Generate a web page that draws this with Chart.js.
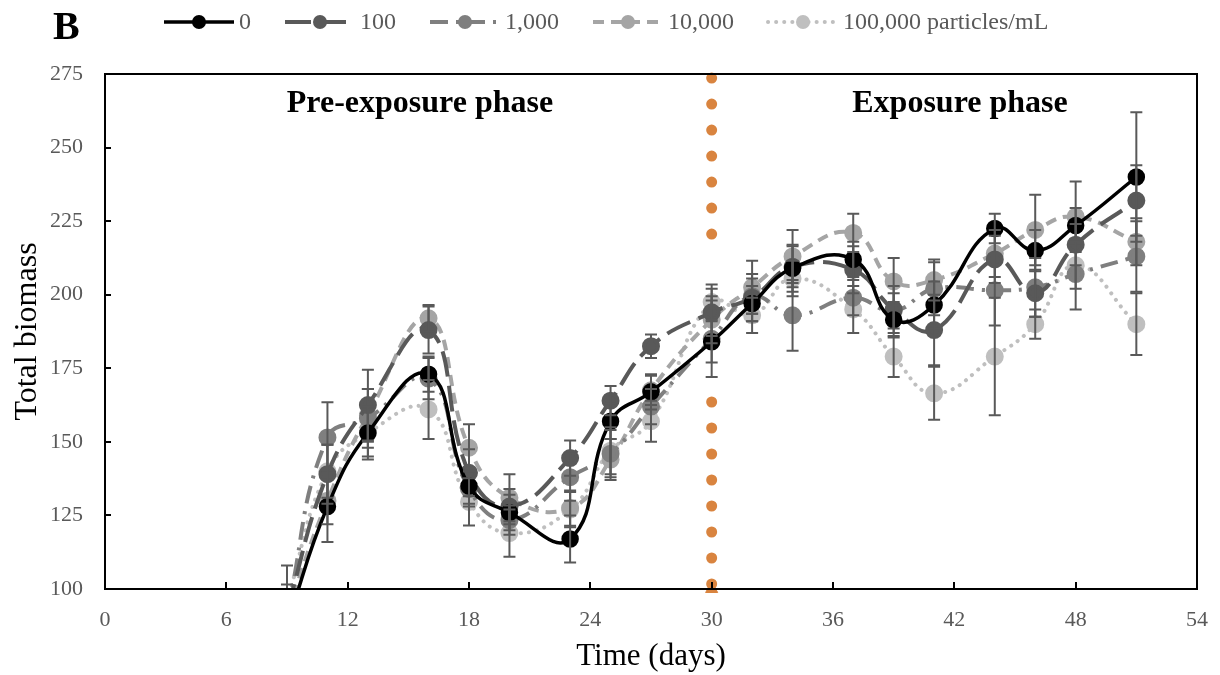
<!DOCTYPE html>
<html>
<head>
<meta charset="utf-8">
<script src="https://cdn.jsdelivr.net/npm/chart.js@4.4.1/dist/chart.umd.min.js"></script>
<style>
  html, body { margin: 0; padding: 0; background: #fff; }
  #wrap { width: 1220px; height: 675px; }
</style>
</head>
<body>
<div id="wrap"><canvas id="chart" width="1220" height="675"></canvas></div>
<script>
// === DATOS ===
const days = [9, 11, 13, 16, 18, 20, 23, 25, 27, 30, 32, 34, 37, 39, 41, 44, 46, 48, 51];

const conc0      = [88, 128, 153, 173, 135, 126, 117, 157, 167, 184, 197, 209, 212, 191.5, 196.5, 222.5, 215, 223.5, 240];
const conc100    = [93, 139, 162.5, 188, 139.5, 128, 144.5, 164, 182.5, 194, 199, 209.5, 208.5, 195, 188, 212, 200.5, 217, 232];
const conc1000   = [92, 151.5, 158, 171.5, 134, 123.4, 138, 146, 162, 185, 199.5, 193, 199, 194.5, 202, 201.5, 202.5, 207, 213];
const conc10000  = [92, 130, 159, 192, 148, 131, 127.5, 144, 167.5, 191.5, 202.5, 213, 221, 204.5, 205, 214, 222, 226.5, 218];
const conc100000 = [96, 140, 153, 161, 129.6, 119, 127, 147, 157, 197.5, 193, 205.5, 195, 179, 166.5, 179, 190, 210, 190];

// desviaciones (barras de error)
const err0      = [8, 12, 8, 6, 6, 6, 8, 6, 6, 7, 6, 8, 6, 6, 8, 5, 7, 6, 22];
const err100    = [7, 10, 12, 8, 8, 6, 6, 5, 4, 8, 8, 7, 8, 8, 12, 8, 8, 7, 12];
const err1000   = [7, 12, 10, 7, 6, 5, 8, 8, 6, 13, 6, 12, 6, 6, 9, 12, 10, 12, 12];
const err10000  = [9.5, 8, 9, 4.5, 8, 8, 6, 7, 5, 8, 9, 9, 6.5, 8, 7, 8, 12, 12, 8];
const err100000 = [12, 9, 9, 10, 8, 8, 6, 8, 7, 6, 6, 6, 8, 7, 9, 20, 5, 8, 10.5];

const seriesLabels = ["0", "100", "1,000", "10,000", "100,000 particles/mL"];

// línea vertical del inicio de la exposición (día 30)
const exposureDay = 30;
const phaseLineLow = [101.7, 163.6];
const phaseLineHigh = [273.6, 211.8];

const xTicks = [0, 6, 12, 18, 24, 30, 36, 42, 48, 54];
const yTicks = [100, 125, 150, 175, 200, 225, 250, 275];

const SERIF = "'Liberation Serif', 'Times New Roman', serif";

function toPoints(values) {
  return values.map((v, i) => ({ x: days[i], y: v }));
}

function series(label, values, errs, color, dash, width, cap) {
  return {
    label: label,
    data: toPoints(values),
    errors: errs,
    borderColor: color,
    backgroundColor: color,
    pointBackgroundColor: color,
    pointBorderColor: color,
    pointRadius: 7,
    pointHoverRadius: 7,
    borderWidth: width,
    borderDash: dash,
    borderCapStyle: cap || "butt",
    tension: 0.45,
    clip: 0
  };
}

const datasets = [
  series(seriesLabels[0], conc0, err0, "#000000", [], 3.5),
  series(seriesLabels[1], conc100, err100, "#595959", [26, 9], 4),
  series(seriesLabels[2], conc1000, err1000, "#7f7f7f", [18, 8, 3, 8], 4),
  series(seriesLabels[3], conc10000, err10000, "#a5a5a5", [11, 7], 4),
  series(seriesLabels[4], conc100000, err100000, "#bfbfbf", [0.1, 8], 4, "round"),
  {
    label: "phaseLow",
    data: phaseLineLow.map(v => ({ x: exposureDay, y: v })),
    borderColor: "#d9843f",
    borderWidth: 11,
    borderDash: [0, 26],
    borderCapStyle: "round",
    pointRadius: 0,
    tension: 0,
    clip: false
  },
  {
    label: "phaseHigh",
    data: phaseLineHigh.map(v => ({ x: exposureDay, y: v })),
    borderColor: "#d9843f",
    borderWidth: 11,
    borderDash: [0, 26],
    borderCapStyle: "round",
    pointRadius: 0,
    tension: 0,
    clip: false
  },
  {
    label: "phaseMark",
    data: [{ x: exposureDay, y: yTicks[0] }],
    showLine: false,
    pointStyle: "triangle",
    pointRadius: 7,
    pointBackgroundColor: "#d9843f",
    pointBorderColor: "#d9843f",
    clip: false
  }
];

// === PLUGIN: barras de error, marco, ticks interiores, leyenda y textos ===
const decor = {
  id: "decor",
  afterDatasetsDraw(chart) {
    const ctx = chart.ctx;
    const y = chart.scales.y;
    const a = chart.chartArea;
    ctx.save();
    ctx.beginPath();
    ctx.rect(a.left, a.top, a.right - a.left, a.bottom - a.top);
    ctx.clip();
    ctx.strokeStyle = "#595959";
    ctx.lineWidth = 2;
    chart.data.datasets.forEach((ds, di) => {
      if (!ds.errors) return;
      const meta = chart.getDatasetMeta(di);
      meta.data.forEach((pt, i) => {
        const v = ds.data[i].y;
        const e = ds.errors[i];
        const yt = y.getPixelForValue(v + e);
        const yb = y.getPixelForValue(v - e);
        ctx.beginPath();
        ctx.moveTo(pt.x, yt); ctx.lineTo(pt.x, yb);
        ctx.moveTo(pt.x - 6, yt); ctx.lineTo(pt.x + 6, yt);
        ctx.moveTo(pt.x - 6, yb); ctx.lineTo(pt.x + 6, yb);
        ctx.stroke();
      });
    });
    ctx.restore();
  },
  afterDraw(chart) {
    const ctx = chart.ctx;
    const a = chart.chartArea;
    const xs = chart.scales.x;
    const ys = chart.scales.y;

    ctx.save();
    // marco
    ctx.strokeStyle = "#000";
    ctx.lineWidth = 2;
    ctx.strokeRect(a.left, a.top, a.right - a.left, a.bottom - a.top);
    // ticks hacia dentro
    ctx.beginPath();
    xTicks.forEach(t => {
      const px = Math.round(xs.getPixelForValue(t));
      ctx.moveTo(px, a.bottom); ctx.lineTo(px, a.bottom - 7);
    });
    yTicks.forEach(t => {
      const py = Math.round(ys.getPixelForValue(t));
      ctx.moveTo(a.left, py); ctx.lineTo(a.left + 6, py);
    });
    ctx.stroke();

    // textos de fases
    ctx.fillStyle = "#000";
    ctx.font = "bold 32px " + SERIF;
    ctx.textAlign = "center";
    ctx.textBaseline = "middle";
    ctx.fillText("Pre-exposure phase", 420, 104);
    ctx.fillText("Exposure phase", 960, 104);

    // letra del panel
    ctx.font = "bold 40px " + SERIF;
    ctx.textAlign = "left";
    ctx.fillText("B", 53, 29);

    // leyenda
    ctx.font = "24px " + SERIF;
    ctx.textBaseline = "middle";
    let lx = 164;
    const ly = 22;
    for (let i = 0; i < 5; i++) {
      const ds = chart.data.datasets[i];
      ctx.save();
      ctx.strokeStyle = ds.borderColor;
      ctx.lineWidth = ds.borderWidth;
      ctx.setLineDash(ds.borderDash);
      ctx.lineCap = ds.borderCapStyle;
      ctx.beginPath();
      ctx.moveTo(lx, ly); ctx.lineTo(lx + 70, ly);
      ctx.stroke();
      ctx.setLineDash([]);
      ctx.fillStyle = ds.borderColor;
      ctx.beginPath();
      ctx.arc(lx + 35, ly, 7, 0, Math.PI * 2);
      ctx.fill();
      ctx.restore();
      ctx.fillStyle = "#595959";
      ctx.fillText(ds.label, lx + 75, ly + 1);
      lx += 75 + ctx.measureText(ds.label).width + 34;
    }
    ctx.restore();
  }
};

new Chart(document.getElementById("chart").getContext("2d"), {
  type: "line",
  data: { datasets: datasets },
  options: {
    responsive: false,
    animation: false,
    events: [],
    layout: { padding: { top: 74, right: 23, bottom: 0, left: 0 } },
    elements: { line: { capBezierPoints: false } },
    plugins: {
      legend: { display: false },
      tooltip: { enabled: false }
    },
    scales: {
      x: {
        type: "linear",
        min: 0,
        max: 54,
        afterBuildTicks: s => { s.ticks = xTicks.map(v => ({ value: v })); },
        afterFit: s => { s.height = 86; s.paddingLeft = 0; s.paddingRight = 0; },
        grid: { display: false, drawTicks: false },
        border: { display: false },
        ticks: { color: "#595959", font: { family: SERIF, size: 22 }, padding: 18 },
        title: {
          display: true,
          text: "Time (days)",
          color: "#000",
          font: { family: SERIF, size: 31 },
          padding: { top: 0, bottom: 0 }
        }
      },
      y: {
        type: "linear",
        min: 100,
        max: 275,
        afterBuildTicks: s => { s.ticks = yTicks.map(v => ({ value: v })); },
        afterFit: s => { s.width = 105; s.paddingTop = 0; s.paddingBottom = 0; },
        grid: { display: false, drawTicks: false },
        border: { display: false },
        ticks: { color: "#595959", font: { family: SERIF, size: 22 }, padding: 22 },
        title: {
          display: true,
          text: "Total biomass",
          color: "#000",
          font: { family: SERIF, size: 32 },
          padding: { top: 8, bottom: 0 }
        }
      }
    }
  },
  plugins: [decor]
});
</script>
</body>
</html>
